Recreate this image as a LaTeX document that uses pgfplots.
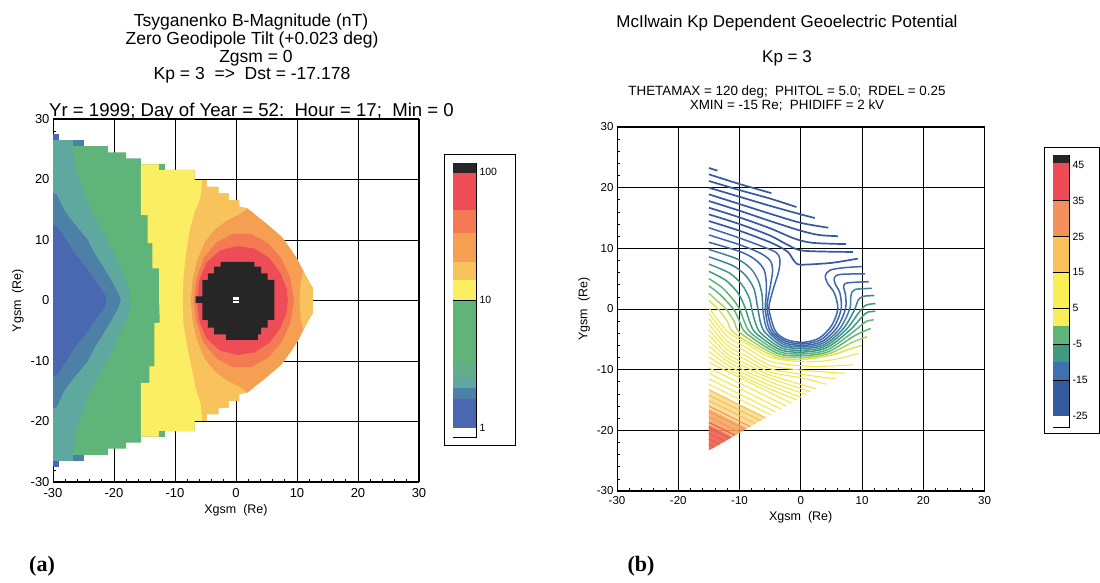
\documentclass[border=0pt]{standalone}
\usepackage{pgfplots}
\pgfplotsset{compat=1.18}
\usepackage{fontspec}
\setmainfont{Liberation Sans}
\newfontfamily\serifbf{Liberation Serif}
% map colours
\definecolor{mblue}{HTML}{4A68B2}
\definecolor{msteel}{HTML}{4C80A6}
\definecolor{mteal}{HTML}{5EA8A0}
\definecolor{mlgreen}{HTML}{62AE8A}
\definecolor{mgreen}{HTML}{5FB47A}
\definecolor{myellow}{HTML}{FBEE62}
\definecolor{mlorange}{HTML}{F8C25C}
\definecolor{morange}{HTML}{F59F52}
\definecolor{msalmon}{HTML}{F37A52}
\definecolor{mred}{HTML}{EE4D57}
\definecolor{mblack}{HTML}{262626}
% contour colours
\definecolor{cdb}{HTML}{3558A3}
\definecolor{cb}{HTML}{3E65AE}
\definecolor{cbt}{HTML}{3F80A0}
\definecolor{ctg}{HTML}{3E9A82}
\definecolor{cg}{HTML}{5DB677}
\definecolor{cyg}{HTML}{A9CF5C}
\definecolor{cyy}{HTML}{DDE352}
\definecolor{cy}{HTML}{F2E84B}
\definecolor{clo}{HTML}{F6C24F}
\definecolor{cor}{HTML}{F4975A}
\definecolor{cre}{HTML}{EE5A55}
% right colour bar
\definecolor{bdb}{HTML}{355AA0}
\definecolor{bb}{HTML}{4170B0}
\definecolor{btg}{HTML}{3F9A80}
\definecolor{bg}{HTML}{5DB677}
\definecolor{by}{HTML}{F8EE55}
\definecolor{blo}{HTML}{F8C25C}
\definecolor{bsa}{HTML}{F4905C}
\definecolor{bre}{HTML}{EF4B56}
\pgfplotsset{
  mapax/.style={scale only axis, anchor=south west,
    xmin=-30,xmax=30,ymin=-30,ymax=30,
    xtick={-30,-20,-10,0,10,20,30}, ytick={-30,-20,-10,0,10,20,30},
    xticklabels={-30,-20,-10,0,10,20,30}, yticklabels={-30,-20,-10,0,10,20,30},
    minor x tick num=4, minor y tick num=4,
    tick pos=left, tick align=inside,
    major tick length=0pt, minor tick length=3pt,
    grid=major, major grid style={black, line width=0.9pt},
    axis line style={black, line width=1pt}, tick style={black, line width=0.7pt},
    label style={font=\fontsize{12.5}{13}\selectfont}},
  cbax/.style={scale only axis, anchor=south west, xmin=0, xmax=1, xtick=\empty,
    yticklabel pos=right, major tick length=0pt,
    axis line style={black,line width=0.6pt},
    tick label style={font=\fontsize{10.5}{10.5}\selectfont}},
  ib/.style={smooth, color=cdb, line width=1.7pt},
  kl/.style={smooth, line width=1.5pt},
  jl/.style={smooth, line width=1.1pt},
}
\begin{document}
\begin{tikzpicture}[x=1pt,y=1pt]
\path[use as bounding box] (0,0) rectangle (1100,583);
% ================= LEFT MAP =================
\begin{axis}[mapax, at={(53pt,101pt)}, width=366pt, height=363pt,
  tick label style={font=\fontsize{13}{13}\selectfont},
  xticklabel style={yshift=-3pt},
  xlabel={Xgsm\ \ (Re)}, ylabel={Ygsm\ \ (Re)}]
% whole domain (green)
\addplot[fill=mgreen, draw=none] coordinates {(-30,26.5) (-25,26.5) (-25,25.5) (-21,25.5) (-21,24.5) (-18,24.5) (-18,23.5) (-15.6,23.5) (-15.6,22.5) (-11.7,22.5) (-11.7,21.6) (-6.8,21.6) (-6.8,19.9) (-4.8,19.9) (-4.8,18.8) (-2.9,18.8) (-2.9,17.7) (-1.2,17.7) (-1.2,16.6) (0.5,16.6) (0.5,15.5) (1.9,15.2) (3.2,14.1) (4.6,13.0) (6.0,11.8) (7.4,10.6) (9.0,8.4) (10.1,6.7) (11.2,4.5) (12.0,3.0) (12.6,2.0) (12.6,-2.0) (12.0,-3.0) (11.2,-4.5) (10.1,-6.7) (9.0,-8.4) (7.4,-10.6) (6.0,-11.8) (4.6,-13.0) (3.2,-14.1) (1.9,-15.2) (0.5,-15.5) (0.5,-16.6) (-1.2,-16.6) (-1.2,-17.7) (-2.9,-17.7) (-2.9,-18.8) (-4.8,-18.8) (-4.8,-19.9) (-6.8,-19.9) (-6.8,-21.6) (-11.7,-21.6) (-11.7,-22.5) (-15.6,-22.5) (-15.6,-23.5) (-18,-23.5) (-18,-24.5) (-21,-24.5) (-21,-25.5) (-25,-25.5) (-25,-26.5) (-30,-26.5)} --cycle;
% teal (left of C3)
\addplot[fill=mteal, draw=none] coordinates {(-26.8,26.5) (-26.8,25.5) (-26.5,23.5) (-26.2,21.6) (-25.3,18.8) (-24.3,16.1) (-22.9,13.3) (-21.4,10.6) (-20,7.8) (-18.8,5.1) (-17.7,2.5) (-17.3,0) (-17.7,-2.5) (-18.8,-5.1) (-20,-7.8) (-21.4,-10.6) (-22.9,-13.3) (-24.3,-16.1) (-25.3,-18.8) (-26.2,-21.6) (-26.5,-23.5) (-26.8,-25.5) (-26.8,-26.5) (-30,-26.5) (-30,26.5)} --cycle;
% steel (left of C2)
\addplot[fill=msteel, draw=none] coordinates {(-30,17.8) (-29.4,17.6) (-28.2,15) (-27,13.3) (-25.5,11.5) (-24.3,10) (-23.2,7.8) (-21.8,5.6) (-20.5,3.4) (-19.3,1.2) (-18.9,0) (-19.3,-1.2) (-20.5,-3.4) (-21.8,-5.6) (-23.2,-7.8) (-24.3,-10) (-25.5,-11.5) (-27,-13.3) (-28.2,-15) (-29.4,-17.6) (-30,-17.8)} --cycle;
% blue (left of C1)
\addplot[fill=mblue, draw=none] coordinates {(-30,12.5) (-29.3,12.2) (-27.8,10) (-26.5,7.8) (-24.6,5.5) (-23.2,3.4) (-21.6,1.2) (-21.2,0) (-21.6,-1.2) (-23.2,-3.4) (-24.6,-5.5) (-26.5,-7.8) (-27.8,-10) (-29.3,-12.2) (-30,-12.5)} --cycle;
% yellow (right of C4)
\addplot[fill=myellow, draw=none] coordinates {(-15.6,22.5) (-15.6,14.1) (-14.5,14.1) (-14.5,9.5) (-13.7,9.5) (-13.7,5.3) (-12.6,5.3) (-12.6,0) (-12.5,-3.7) (-13.4,-3.7) (-13.4,-10.9) (-14.2,-10.9) (-14.2,-13.6) (-15.6,-13.6) (-15.6,-22.5) (-11.7,-22.5) (-11.7,-21.6) (-6.8,-21.6) (-6.8,-19.9) (-4.8,-19.9) (-4.8,-18.8) (-2.9,-18.8) (-2.9,-17.7) (-1.2,-17.7) (-1.2,-16.6) (0.5,-16.6) (0.5,-15.5) (1.9,-15.2) (3.2,-14.1) (4.6,-13.0) (6.0,-11.8) (7.4,-10.6) (9.0,-8.4) (10.1,-6.7) (11.2,-4.5) (12.0,-3.0) (12.6,-2.0) (12.6,2.0) (12.0,3.0) (11.2,4.5) (10.1,6.7) (9.0,8.4) (7.4,10.6) (6.0,11.8) (4.6,13.0) (3.2,14.1) (1.9,15.2) (0.5,15.5) (0.5,16.6) (-1.2,16.6) (-1.2,17.7) (-2.9,17.7) (-2.9,18.8) (-4.8,18.8) (-4.8,19.9) (-6.8,19.9) (-6.8,21.6) (-11.7,21.6) (-11.7,22.5)} --cycle;
% light orange (right of C5)
\addplot[fill=mlorange, draw=none] coordinates {(-5.5,19.9) (-5.8,17) (-6.8,14.5) (-7.6,11.5) (-8.2,7.5) (-8.6,4) (-8.7,0) (-8.6,-4) (-8.0,-7.5) (-7.2,-11.5) (-6.6,-14.5) (-5.8,-17) (-5.5,-19.9) (-4.8,-19.9) (-4.8,-18.8) (-2.9,-18.8) (-2.9,-17.7) (-1.2,-17.7) (-1.2,-16.6) (0.5,-16.6) (0.5,-15.5) (1.9,-15.2) (3.2,-14.1) (4.6,-13.0) (6.0,-11.8) (7.4,-10.6) (9.0,-8.4) (10.1,-6.7) (11.2,-4.5) (12.0,-3.0) (12.6,-2.0) (12.6,2.0) (12.0,3.0) (11.2,4.5) (10.1,6.7) (9.0,8.4) (7.4,10.6) (6.0,11.8) (4.6,13.0) (3.2,14.1) (1.9,15.2) (0.5,15.5) (0.5,16.6) (-1.2,16.6) (-1.2,17.7) (-2.9,17.7) (-2.9,18.8) (-4.8,18.8) (-4.8,19.9)} --cycle;
% orange (right of C6)
\addplot[fill=morange, draw=none] coordinates {(1.9,15.2) (0.5,14.2) (-1.5,13.2) (-3.5,11.7) (-5.2,9.5) (-6.4,6.5) (-7.1,3.5) (-7.4,0) (-7.1,-3.5) (-6.4,-6.5) (-5.2,-9.5) (-3.5,-11.7) (-1.5,-13.2) (0.5,-14.2) (1.9,-15.2) (3.2,-14.1) (4.6,-13.0) (6.0,-11.8) (7.4,-10.6) (9.0,-8.4) (10.1,-6.7) (11.2,-4.5) (12.0,-3.0) (12.6,-2.0) (12.6,2.0) (12.0,3.0) (11.2,4.5) (10.1,6.7) (9.0,8.4) (7.4,10.6) (6.0,11.8) (4.6,13.0) (3.2,14.1)} --cycle;
% light orange at the nose
\addplot[fill=mlorange, draw=none] coordinates {(11.05,4.8) (11.2,4.5) (12.0,3.0) (12.6,2.0) (12.6,-2.0) (12.0,-3.0) (11.2,-4.5) (11.05,-4.8) (10.6,-3.0) (10.4,0) (10.6,3.0)} --cycle;
% salmon (inside C7)
\addplot[fill=msalmon, draw=none] coordinates {(-6.9,0) (-6.5,3.5) (-5.3,7) (-3.2,9.6) (-0.5,11.0) (2.5,11.0) (5.2,9.5) (7.4,7.0) (8.9,3.8) (9.5,0) (8.9,-3.8) (7.4,-7.0) (5.2,-9.5) (2.5,-11.0) (-0.5,-11.0) (-3.2,-9.6) (-5.3,-7) (-6.5,-3.5)} --cycle;
% red (inside C8)
\addplot[fill=mred, draw=none] coordinates {(-6.4,0) (-6.0,3.5) (-4.8,6.3) (-2.6,8.3) (0.2,9.0) (3.0,8.6) (5.5,7.0) (7.3,4.5) (8.3,2.0) (8.5,0) (8.3,-2.0) (7.3,-4.5) (5.5,-7.0) (3.0,-8.6) (0.2,-9.0) (-2.6,-8.3) (-4.8,-6.3) (-6.0,-3.5)} --cycle;
% black (>100 nT)
\addplot[fill=mblack, draw=none] coordinates {(-5.5,-0.4) (-6.6,-0.4) (-6.6,0.7) (-5.5,0.7) (-5.5,3.4) (-4.6,3.4) (-4.6,4.5) (-3.6,4.5) (-3.6,5.6) (-2.5,5.6) (-2.5,6.4) (3.0,6.4) (3.0,5.6) (4.1,5.6) (4.1,4.5) (5.2,4.5) (5.2,3.4) (6.3,3.4) (6.3,-3.2) (5.2,-3.2) (5.2,-4.5) (4.1,-4.5) (4.1,-5.6) (3.6,-5.6) (3.6,-6.5) (-1.6,-6.5) (-1.6,-5.6) (-3.6,-5.6) (-3.6,-4.5) (-4.6,-4.5) (-4.6,-3.2) (-5.5,-3.2)} --cycle;
% single cells
\addplot[fill=mgreen, draw=none] coordinates {(-12.7,21.6) (-11.7,21.6) (-11.7,22.5) (-12.7,22.5)} --cycle;
\addplot[fill=mgreen, draw=none] coordinates {(-12.7,-21.6) (-11.7,-21.6) (-11.7,-22.5) (-12.7,-22.5)} --cycle;
\addplot[fill=mblue, draw=none] coordinates {(-30,26.5) (-29,26.5) (-29,27.5) (-30,27.5)} --cycle;
\addplot[fill=mblue, draw=none] coordinates {(-30,-26.5) (-29,-26.5) (-29,-27.5) (-30,-27.5)} --cycle;
\addplot[fill=msteel, draw=none] coordinates {(-26.8,25.6) (-25,25.6) (-25,26.5) (-26.8,26.5)} --cycle;
\addplot[fill=msteel, draw=none] coordinates {(-26.8,-25.6) (-25,-25.6) (-25,-26.5) (-26.8,-26.5)} --cycle;
\addplot[only marks, mark=square*, mark size=0.8pt, white] coordinates {(-0.3,0.35) (0.15,0.35) (-0.3,-0.2) (0.15,-0.2)};
\end{axis}
% left colour bar
\draw[black, line width=0.8pt] (444,138) rectangle (515,429);
\begin{axis}[cbax, at={(453pt,146pt)}, width=23pt, height=274pt, ymin=-0.07, ymax=2.07,
  ytick={0,1,2}, yticklabels={1,10,100}]
\addplot[fill=white, draw=none] coordinates {(0,-0.07) (1,-0.07) (1,0) (0,0)} --cycle;
\addplot[fill=mblue, draw=none] coordinates {(0,0) (1,0) (1,0.23) (0,0.23)} --cycle;
\addplot[fill=msteel, draw=none] coordinates {(0,0.23) (1,0.23) (1,0.31) (0,0.31)} --cycle;
\addplot[fill=mteal, draw=none] coordinates {(0,0.31) (1,0.31) (1,0.40) (0,0.40)} --cycle;
\addplot[fill=mlgreen, draw=none] coordinates {(0,0.40) (1,0.40) (1,0.51) (0,0.51)} --cycle;
\addplot[fill=mgreen, draw=none] coordinates {(0,0.51) (1,0.51) (1,1.0) (0,1.0)} --cycle;
\addplot[fill=myellow, draw=none] coordinates {(0,1.0) (1,1.0) (1,1.16) (0,1.16)} --cycle;
\addplot[fill=mlorange, draw=none] coordinates {(0,1.16) (1,1.16) (1,1.30) (0,1.30)} --cycle;
\addplot[fill=morange, draw=none] coordinates {(0,1.30) (1,1.30) (1,1.52) (0,1.52)} --cycle;
\addplot[fill=msalmon, draw=none] coordinates {(0,1.52) (1,1.52) (1,1.70) (0,1.70)} --cycle;
\addplot[fill=mred, draw=none] coordinates {(0,1.70) (1,1.70) (1,1.99) (0,1.99)} --cycle;
\addplot[fill=mblack, draw=none] coordinates {(0,1.99) (1,1.99) (1,2.07) (0,2.07)} --cycle;
\addplot[black, line width=0.6pt] coordinates {(0,1) (1,1)};
\end{axis}
% ================= RIGHT CONTOURS =================
\begin{axis}[mapax, at={(617pt,92pt)}, width=367.5pt, height=364pt,
  tick label style={font=\fontsize{11.5}{12}\selectfont},
  xticklabel style={yshift=-2pt},
  xlabel={Xgsm\ \ (Re)}, ylabel={Ygsm\ \ (Re)}]
% dense orange / red corner
\addplot[fill=clo, fill opacity=0.55, draw=none] coordinates {(-15,-13.3) (-5.74,-17.93) (-15,-23.3)} --cycle;
\addplot[fill=cor, fill opacity=0.65, draw=none] coordinates {(-15,-16.5) (-8.7,-19.65) (-15,-23.3)} --cycle;
\addplot[fill=cre, fill opacity=0.75, draw=none] coordinates {(-15,-19.2) (-11.2,-21.1) (-15,-23.3)} --cycle;
% top blue lines
\addplot[ib] coordinates {(-15,23.25) (-13.6,22.8)};
\addplot[ib] coordinates {(-15,22.2) (-10,20.6) (-4.8,19.1)};
\addplot[ib] coordinates {(-15,21.1) (-10,19.6) (-5,18.2) (-0.7,16.8)};
\addplot[ib] coordinates {(-15,20.0) (-10,18.5) (-5,17.0) (0,15.6) (2.3,15.0)};
\addplot[ib] coordinates {(-15,18.9) (-10,17.3) (-5,15.7) (0,14.2) (4.5,13.4)};
\addplot[ib] coordinates {(-15,17.8) (-10,16.2) (-5,14.5) (0,12.9) (3,12.2) (6.1,12.0)};
\addplot[ib] coordinates {(-15,16.7) (-10,15.1) (-5,13.3) (-1,11.6) (2,10.9) (7.4,10.7)};
\addplot[ib] coordinates {(-15,15.6) (-10,14.0) (-5,12.1) (-2,10.5) (0.5,9.6) (8.5,9.4)};
\addplot[ib, tension=0.4] coordinates {(-15,14.5) (-10,12.9) (-5,11.0) (-2.2,9.5) (-1.0,7.8) (0,7.3) (5,7.6) (9.3,8.3)};
% lines wrapping round the inner boundary
\addplot[kl, color=cb] coordinates {(-15,13.4) (-10,11.7) (-6,10.2) (-4,9.3) (-3.4,8.2) (-3.6,6.2) (-4.4,3.6) (-5.0,1.4) (-5.2,0) (-4.6,-2.5) (-3.9,-4) (-2.2,-5.1) (0.4,-5.5) (3.0,-4.8) (5.0,-2.8) (6.05,0) (5.5,2.6) (4.4,4.2) (4.0,5.5) (4.8,6.4) (7,6.8) (10,7.0)};
\addplot[kl, color=cb] coordinates {(-15,12.2) (-10,10.6) (-6.8,9.3) (-5.0,8.0) (-4.6,6.3) (-5.0,3.6) (-5.4,1.4) (-5.5,0) (-5.0,-2.5) (-4.3,-4) (-2.4,-5.35) (0.4,-5.75) (3.2,-5.1) (5.4,-3.0) (6.6,0) (6.4,2.6) (5.6,4.2) (5.5,5.2) (6.5,5.7) (10.5,5.8)};
\addplot[kl, color=cb] coordinates {(-15,11.0) (-10,9.5) (-7.5,8.2) (-6.0,6.5) (-5.6,4.0) (-5.7,1.5) (-5.8,0) (-5.4,-2.5) (-4.7,-4) (-2.6,-5.6) (0.4,-6.0) (3.4,-5.4) (5.9,-3.1) (7.3,0) (7.3,2.4) (7.0,3.7) (7.6,4.3) (11.1,4.5)};
\addplot[kl, color=cbt] coordinates {(-15,9.8) (-10.5,8.3) (-8.2,6.7) (-6.9,4.6) (-6.3,2.2) (-6.2,0) (-5.8,-2.5) (-5.1,-4) (-2.8,-5.85) (0.4,-6.25) (3.6,-5.65) (6.4,-3.2) (8.0,0) (8.2,2.2) (8.8,3.2) (11.6,3.4)};
\addplot[kl, color=cbt] coordinates {(-15,8.6) (-11,7.1) (-8.9,5.4) (-7.6,3.2) (-7.0,0) (-6.5,-2.5) (-5.7,-4) (-3,-6.1) (0.4,-6.5) (3.8,-5.9) (6.9,-3.3) (8.7,-0.3) (9.4,1.5) (10.3,2.1) (12.0,2.2)};
\addplot[kl, color=ctg] coordinates {(-15,7.4) (-11.6,5.9) (-9.6,4.0) (-8.4,1.8) (-8.0,0) (-7.4,-2.3) (-6.5,-4) (-3.2,-6.4) (0.4,-6.8) (4.0,-6.15) (7.4,-3.4) (9.4,-0.7) (10.6,0.6) (12.2,0.9)};
\addplot[kl, color=ctg] coordinates {(-15,6.2) (-12.2,4.7) (-10.3,2.7) (-9.4,1.0) (-9.0,0) (-8.3,-2.2) (-7.3,-4) (-3.4,-6.7) (0.4,-7.1) (4.2,-6.4) (7.9,-3.6) (10.1,-1.2) (11.0,-0.5) (12.2,-0.4)};
\addplot[kl, color=cg] coordinates {(-15,5.0) (-12.8,3.5) (-11.0,1.5) (-10.0,0) (-9.2,-2.1) (-8.1,-4) (-3.6,-7.0) (0.4,-7.4) (4.4,-6.7) (8.4,-3.9) (10.6,-2.1) (11.9,-1.8)};
\addplot[kl, color=cg] coordinates {(-15,3.8) (-13.2,2.4) (-11.0,0) (-10.0,-2.0) (-8.9,-4) (-3.8,-7.3) (0.4,-7.7) (4.6,-7.0) (8.8,-4.4) (11.4,-3.2)};
\addplot[kl, color=cyg] coordinates {(-15,2.6) (-13.6,1.3) (-12.2,0) (-10.9,-2.0) (-9.8,-4) (-4.0,-7.6) (0.4,-8.0) (4.8,-7.3) (8.6,-5.4) (10.8,-4.6)};
\addplot[kl, color=cyy] coordinates {(-15,1.4) (-13.5,0) (-12.0,-2.0) (-10.8,-4) (-4.2,-7.9) (0.4,-8.3) (5.0,-7.6) (8.0,-6.6) (10,-6.0)};
% yellow / orange / red lines
\addplot[jl, color=cy] coordinates {(-15,0.2) (-12,-3.7) (-9,-5.6) (-5,-7.95) (0.4,-8.7) (5,-8.4) (9.5,-7.3)};
\addplot[jl, color=cy] coordinates {(-15,-0.7) (-12,-4.5) (-9,-6.3) (-5,-8.6) (0.4,-9.4) (5,-9.4) (8.6,-9.2)};
\addplot[jl, color=cy] coordinates {(-15,-1.6) (-12,-5.3) (-9,-7.0) (-5,-9.3) (0.4,-10.1) (7.2,-10.6)};
\addplot[jl, color=cy] coordinates {(-15,-2.5) (-12,-6.0) (-9,-7.7) (-5,-9.85) (0.4,-10.8) (5.6,-11.5)};
\addplot[jl, color=cy] coordinates {(-15,-3.4) (-12,-6.7) (-9,-8.35) (-5,-10.4) (0.4,-11.4) (4.1,-12.4)};
\addplot[jl, color=cy] coordinates {(-15,-4.3) (-12,-7.4) (-9,-9.0) (-5,-10.9) (2.5,-13.15)};
\addplot[jl, color=cy] coordinates {(-15,-5.2) (-12,-8.0) (-9,-9.6) (-5,-11.4) (1.63,-13.65)};
\addplot[jl, color=cy] coordinates {(-15,-6.1) (-12,-8.6) (-9,-10.2) (-5,-12.0) (0.85,-14.1)};
\addplot[jl, color=cy] coordinates {(-15,-7.0) (-12,-9.2) (-9,-10.8) (-5,-12.6) (0.1,-14.55)};
\addplot[jl, color=cy] coordinates {(-15,-7.9) (-12,-9.8) (-9,-11.35) (-5,-13.2) (-0.6,-15.0)};
\addplot[jl, color=cy] coordinates {(-15,-8.8) (-1.57,-15.5)};
\addplot[jl, color=cy] coordinates {(-15,-9.7) (-2.4,-16.0)};
\addplot[jl, color=cy] coordinates {(-15,-10.6) (-3.24,-16.5)};
\addplot[jl, color=cy] coordinates {(-15,-11.5) (-4.1,-17.0)};
\addplot[jl, color=cy] coordinates {(-15,-12.4) (-4.9,-17.45)};
\addplot[jl, color=clo] coordinates {(-15,-13.3) (-5.74,-17.93)};
\addplot[jl, color=clo] coordinates {(-15,-14.2) (-6.57,-18.4)};
\addplot[jl, color=clo] coordinates {(-15,-15.1) (-7.4,-18.9)};
\addplot[jl, color=cor] coordinates {(-15,-16.0) (-8.24,-19.4)};
\addplot[jl, color=cor] coordinates {(-15,-16.9) (-9.07,-19.86)};
\addplot[jl, color=cor] coordinates {(-15,-17.8) (-9.9,-20.35)};
\addplot[jl, color=cre] coordinates {(-15,-18.7) (-10.74,-20.8)};
\addplot[jl, color=cre] coordinates {(-15,-19.6) (-11.57,-21.3)};
\addplot[jl, color=cre] coordinates {(-15,-20.5) (-12.4,-21.8)};
\addplot[jl, color=cre] coordinates {(-15,-21.4) (-13.24,-22.3)};
\addplot[jl, color=cre] coordinates {(-15,-22.3) (-14.07,-22.76)};
\end{axis}
% right colour bar
\draw[black, line width=0.8pt] (1044,150) rectangle (1099.4,436);
\begin{axis}[cbax, at={(1053pt,156pt)}, width=16pt, height=272pt, ymin=-28.1, ymax=47.7,
  ytick={-25,-15,-5,5,15,25,35,45}, yticklabels={-25,-15,-5,5,15,25,35,45}]
\addplot[fill=white, draw=none] coordinates {(0,-28.1) (1,-28.1) (1,-25) (0,-25)} --cycle;
\addplot[fill=bdb, draw=none] coordinates {(0,-25) (1,-25) (1,-15) (0,-15)} --cycle;
\addplot[fill=bb, draw=none] coordinates {(0,-15) (1,-15) (1,-10) (0,-10)} --cycle;
\addplot[fill=btg, draw=none] coordinates {(0,-10) (1,-10) (1,-5) (0,-5)} --cycle;
\addplot[fill=bg, draw=none] coordinates {(0,-5) (1,-5) (1,0) (0,0)} --cycle;
\addplot[fill=by, draw=none] coordinates {(0,0) (1,0) (1,15) (0,15)} --cycle;
\addplot[fill=blo, draw=none] coordinates {(0,15) (1,15) (1,25) (0,25)} --cycle;
\addplot[fill=bsa, draw=none] coordinates {(0,25) (1,25) (1,35) (0,35)} --cycle;
\addplot[fill=bre, draw=none] coordinates {(0,35) (1,35) (1,45.5) (0,45.5)} --cycle;
\addplot[fill=mblack, draw=none] coordinates {(0,45.5) (1,45.5) (1,47.7) (0,47.7)} --cycle;
\addplot[black, line width=0.5pt] coordinates {(0,-15) (1,-15)};
\addplot[black, line width=0.5pt] coordinates {(0,-5) (1,-5)};
\addplot[black, line width=0.5pt] coordinates {(0,5) (1,5)};
\addplot[black, line width=0.5pt] coordinates {(0,15) (1,15)};
\addplot[black, line width=0.5pt] coordinates {(0,25) (1,25)};
\addplot[black, line width=0.5pt] coordinates {(0,35) (1,35)};
\end{axis}
% ================= TITLES =================
\begin{scope}[every node/.style={anchor=base, inner sep=0pt}]
\node[font=\fontsize{17.5}{19}\selectfont] at (251,556) {Tsyganenko B-Magnitude (nT)};
\node[font=\fontsize{17.5}{19}\selectfont] at (252,538) {Zero Geodipole Tilt (+0.023 deg)};
\node[font=\fontsize{17.5}{19}\selectfont] at (256,520) {Zgsm = 0};
\node[font=\fontsize{17.5}{19}\selectfont] at (252,503) {Kp = 3\ \ =>\ \ Dst = -17.178};
\node[font=\fontsize{18.6}{20}\selectfont] at (251.5,466) {Yr = 1999;\ Day of Year = 52:\ \ Hour = 17;\ \ Min = 0};
\node[font=\fontsize{17}{18}\selectfont] at (787,555) {McIlwain Kp Dependent Geoelectric Potential};
\node[font=\fontsize{17}{18}\selectfont] at (787,520) {Kp = 3};
\node[font=\fontsize{13.4}{14}\selectfont] at (787,487) {THETAMAX = 120 deg;\ \ PHITOL = 5.0;\ \ RDEL = 0.25};
\node[font=\fontsize{13.4}{14}\selectfont] at (787,473) {XMIN = -15 Re;\ \ PHIDIFF = 2 kV};
\end{scope}
\node[font=\serifbf\bfseries\fontsize{22}{22}\selectfont, inner sep=0pt] at (42,17) {(a)};
\node[font=\serifbf\bfseries\fontsize{22}{22}\selectfont, inner sep=0pt] at (641,17) {(b)};
\end{tikzpicture}
\end{document}
